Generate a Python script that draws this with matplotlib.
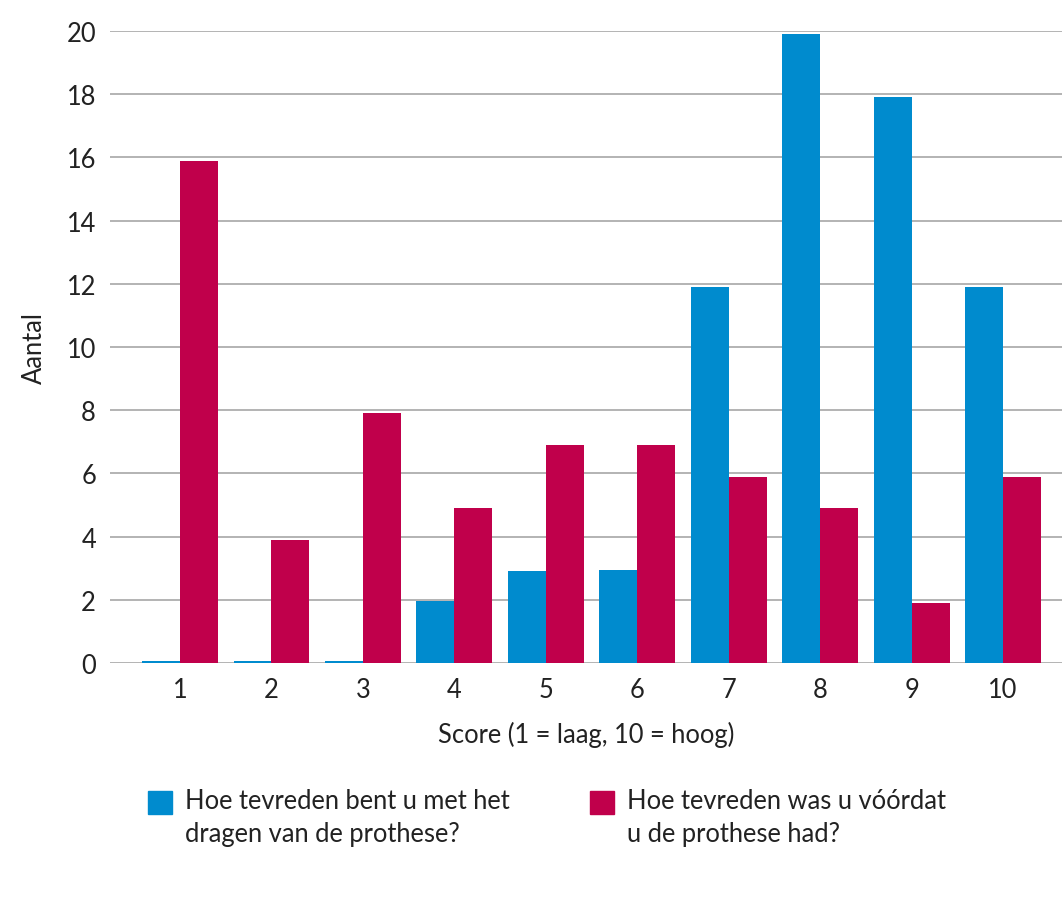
import matplotlib
matplotlib.use("Agg")
import matplotlib.pyplot as plt
from matplotlib.patches import Rectangle
import numpy as np

categories = ["1", "2", "3", "4", "5", "6", "7", "8", "9", "10"]
na_prothese = [0.05, 0.05, 0.05, 1.95, 2.9, 2.95, 11.9, 19.9, 17.9, 11.9]
voor_prothese = [15.9, 3.9, 7.9, 4.9, 6.9, 6.9, 5.9, 4.9, 1.9, 5.9]
legend_labels = ["Hoe tevreden bent u met het\ndragen van de prothese?",
                 "Hoe tevreden was u vóórdat\nu de prothese had?"]
y_ticks = [0, 2, 4, 6, 8, 10, 12, 14, 16, 18, 20]

BLUE = "#008BCE"
RED = "#C0004B"
TXT = "#222222"
FONT = "Lato"
FS = 18.4

plt.rcParams['font.family'] = [FONT, 'DejaVu Sans']

fig = plt.figure(figsize=(10.62, 9.04), dpi=100)
ax = fig.add_axes([110/1062, (904-664)/904, 1 - 110/1062, (664-32)/904])

x = np.arange(1, len(categories) + 1)
w = 0.415
ax.bar(x - w/2, na_prothese, width=w, color=BLUE, zorder=3)
ax.bar(x + w/2, voor_prothese, width=w, color=RED, zorder=3)

ax.set_ylim(0, 20)
ax.set_xlim(0.234, 10.645)
ax.set_yticks(y_ticks)
ax.set_xticks(x)
ax.set_xticklabels(categories)
ax.yaxis.grid(True, color="#b3b3b3", linewidth=1.4, zorder=0)
ax.set_axisbelow(True)
for s in ax.spines.values():
    s.set_visible(False)
ax.tick_params(axis='both', length=0, labelsize=FS, colors=TXT)
ax.tick_params(axis='y', pad=10)
ax.tick_params(axis='x', pad=10)
ax.set_xlabel("Score (1 = laag, 10 = hoog)", fontsize=FS, color=TXT, labelpad=14)
ax.set_ylabel("Aantal", fontsize=FS, color=TXT, labelpad=14)

# legend
colors = [BLUE, RED]
lx = [148, 590]
for i, (lab, c) in enumerate(zip(legend_labels, colors)):
    fig.patches.append(Rectangle((lx[i]/1062, 1 - 815/904), 24/1062, 23/904,
                                 transform=fig.transFigure, color=c))
    fig.text((lx[i] + 37)/1062, 1 - 789/904, lab, fontsize=FS, color=TXT,
             va='top', ha='left', linespacing=1.4)

fig.savefig("out.png", dpi=100, facecolor="white")
